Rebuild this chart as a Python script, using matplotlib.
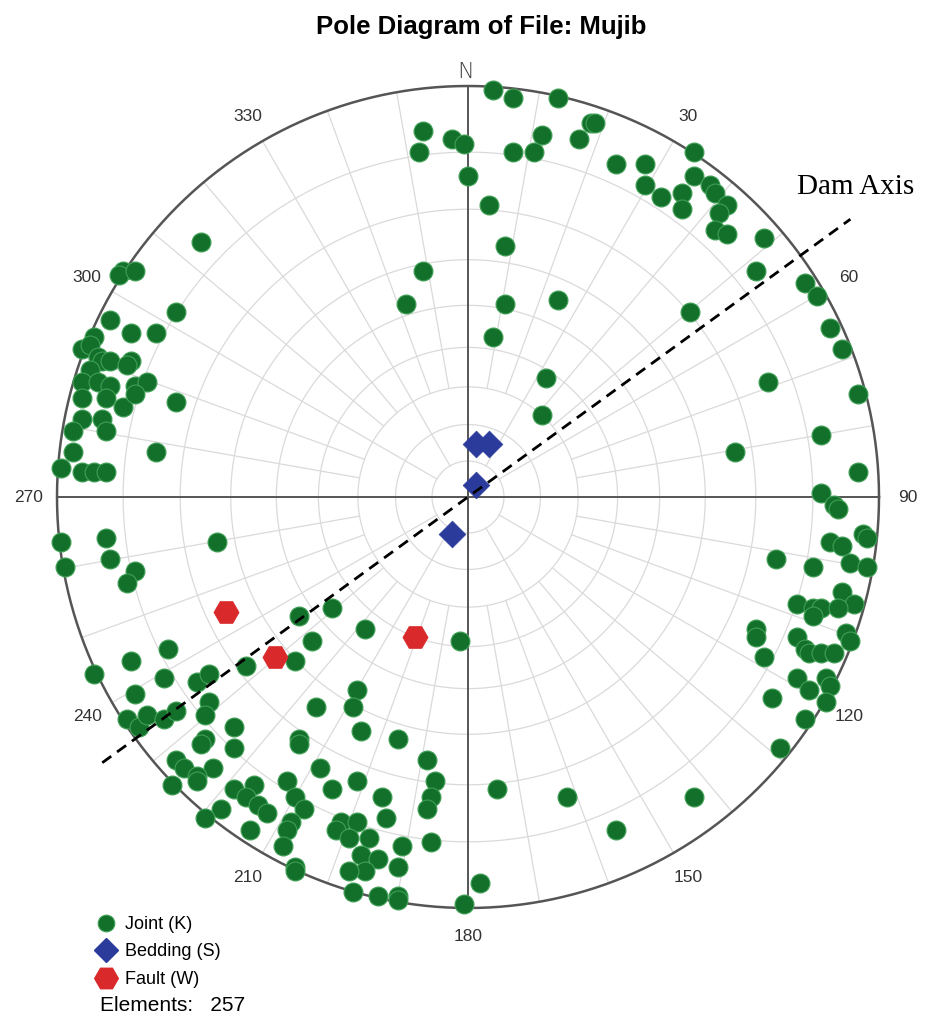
import numpy as np
import matplotlib
matplotlib.use("Agg")
import matplotlib.pyplot as plt
from matplotlib.lines import Line2D

# ---------------- data (net coordinates, primitive circle radius = 1) ----------------
joint_x = [0.06, 0.11, 0.22, -0.11, -0.12, -0.04, -0.01, 0.11, 0.16, 0.18, 0.27, 0.30, 0.31,
           0.00, 0.05, 0.09, 0.36, 0.43, 0.43, 0.47, 0.55, 0.55, 0.59, 0.60, 0.63, 0.61, 0.52,
           0.52, 0.60, 0.63, 0.72, 0.70, 0.82, 0.85, 0.88, 0.91, 0.73, 0.95, 0.19, 0.18, 0.06,
           0.09, 0.22, 0.54, -0.11, -0.15, -0.65, 0.86, 0.65, 0.95,
           0.86, 0.89, 0.90, 0.88, 0.91, 0.96, 0.97, 0.93, 0.97, 0.75, 0.84, 0.91, 0.94, 0.80,
           0.84, 0.86, 0.90, 0.84, 0.70, 0.70, 0.72, 0.80, 0.82, 0.83, 0.86, 0.89, 0.92, 0.93,
           0.80, 0.83, 0.87, 0.88, 0.87, 0.74, 0.82, 0.76,
           -0.84, -0.85, -0.81, -0.71, -0.87, -0.82, -0.76, -0.91, -0.94, -0.92, -0.90, -0.89,
           -0.87, -0.82, -0.83, -0.92, -0.94, -0.90, -0.87, -0.88, -0.94, -0.84, -0.81, -0.78,
           -0.81, -0.71, -0.94, -0.89, -0.88, -0.96, -0.96, -0.76, -0.99, -0.94, -0.91, -0.88,
           -0.99, -0.98, -0.88, -0.87, -0.81, -0.83, -0.61, -0.91, -0.82, -0.74, -0.81, -0.73,
           -0.66, -0.63, -0.54, -0.42, -0.38, -0.41, -0.33, -0.25, -0.02,
           -0.83, -0.80, -0.78, -0.74, -0.71, -0.63, -0.64, -0.64, -0.65, -0.57, -0.57, -0.71,
           -0.69, -0.62, -0.66, -0.66, -0.72, -0.57, -0.52, -0.54, -0.51, -0.49, -0.60, -0.64,
           -0.53, -0.44, -0.42, -0.40, -0.43, -0.44, -0.45, -0.42, -0.42, -0.37, -0.41, -0.41,
           -0.36, -0.33, -0.27, -0.27, -0.28, -0.26, -0.17, -0.21, -0.20, -0.31, -0.32, -0.27,
           -0.29, -0.24, -0.26, -0.22, -0.25, -0.29, -0.28, -0.22, -0.17, -0.17, -0.16, -0.17,
           -0.10, -0.08, -0.09, -0.10, -0.09,
           -0.01, 0.03, 0.07, 0.24, 0.36, 0.55]
joint_y = [0.99, 0.97, 0.97, 0.89, 0.84, 0.87, 0.86, 0.84, 0.84, 0.88, 0.87, 0.91, 0.91,
           0.78, 0.71, 0.61, 0.81, 0.81, 0.76, 0.73, 0.84, 0.78, 0.76, 0.74, 0.71, 0.69, 0.74,
           0.70, 0.65, 0.64, 0.63, 0.55, 0.52, 0.49, 0.41, 0.36, 0.28, 0.25, 0.29, 0.20, 0.39,
           0.47, 0.48, 0.45, 0.55, 0.47, 0.62, 0.15, 0.11, 0.06,
           0.01, -0.02, -0.03, -0.11, -0.12, -0.09, -0.10, -0.16, -0.17, -0.15, -0.17, -0.23,
           -0.26, -0.26, -0.27, -0.27, -0.27, -0.29, -0.32, -0.34, -0.39, -0.34, -0.37, -0.38,
           -0.38, -0.38, -0.33, -0.35, -0.44, -0.47, -0.44, -0.46, -0.50, -0.49, -0.54, -0.61,
           0.55, 0.54, 0.55, 0.45, 0.43, 0.40, 0.40, 0.39, 0.36, 0.37, 0.34, 0.33,
           0.33, 0.33, 0.32, 0.31, 0.28, 0.28, 0.27, 0.24, 0.24, 0.22, 0.27, 0.28,
           0.25, 0.23, 0.19, 0.19, 0.16, 0.16, 0.11, 0.11, 0.07, 0.06, 0.06, 0.06,
           -0.11, -0.17, -0.10, -0.15, -0.18, -0.21, -0.11, -0.43, -0.40, -0.44, -0.48, -0.37,
           -0.45, -0.43, -0.41, -0.40, -0.35, -0.29, -0.27, -0.32, -0.35,
           -0.54, -0.56, -0.53, -0.54, -0.52, -0.50, -0.53, -0.59, -0.60, -0.56, -0.61, -0.64,
           -0.66, -0.66, -0.68, -0.69, -0.70, -0.71, -0.70, -0.73, -0.75, -0.77, -0.76, -0.78,
           -0.81, -0.69, -0.73, -0.76, -0.79, -0.81, -0.85, -0.90, -0.91, -0.51, -0.59, -0.60,
           -0.66, -0.71, -0.69, -0.47, -0.51, -0.57, -0.59, -0.73, -0.78, -0.79, -0.81, -0.79,
           -0.83, -0.83, -0.87, -0.88, -0.91, -0.91, -0.96, -0.97, -0.97, -0.98, -0.85, -0.90,
           -0.64, -0.69, -0.73, -0.76, -0.84,
           -0.99, -0.94, -0.71, -0.73, -0.81, -0.73]

bedding_x = [0.02, 0.05, 0.02, -0.04]
bedding_y = [0.13, 0.13, 0.03, -0.09]

fault_x = [-0.59, -0.47, -0.13]
fault_y = [-0.28, -0.39, -0.34]

dam_axis_trend = 54.0            # degrees clockwise from north
dam_axis_extent = (-1.10, 1.15)  # in primitive radii along the trend

ring_dips = [10, 20, 30, 40, 50, 60, 70, 80]       # equal-angle small circles
azimuth_labels = [30, 60, 90, 120, 150, 180, 210, 240, 270, 300, 330]
legend_labels = ["Joint (K)", "Bedding (S)", "Fault (W)"]
title = "Pole Diagram of File: Mujib"
n_elements = 257

# ---------------- layout ----------------
W, H = 931, 1021
CX, CY, R = 468.0, 497.0, 411.0   # pixel position of the net centre and its radius

fig = plt.figure(figsize=(W / 100, H / 100), dpi=100)
ax = fig.add_axes([0, 0, 1, 1])
ax.set_xlim(-CX / R, (W - CX) / R)
ax.set_ylim(-(H - CY) / R, CY / R)
ax.axis("off")

grid_col = "#dadada"
dark_col = "#555555"

t = np.linspace(0, 2 * np.pi, 721)
for d in ring_dips:
    r = np.tan(np.radians(d) / 2)
    ax.plot(r * np.cos(t), r * np.sin(t), color=grid_col, lw=0.9, zorder=1)

for az in range(10, 360, 10):
    if az % 90 == 0:
        continue
    if az % 30 == 0:
        r0 = np.tan(np.radians(10) / 2)
    else:
        r0 = np.tan(np.radians(30) / 2)
    a = np.radians(az)
    ax.plot([r0 * np.sin(a), np.sin(a)], [r0 * np.cos(a), np.cos(a)],
            color=grid_col, lw=0.9, zorder=1)

ax.plot(np.cos(t), np.sin(t), color=dark_col, lw=1.8, zorder=2)
ax.plot([-1, 1], [0, 0], color=dark_col, lw=1.4, zorder=2)
ax.plot([0, 0], [-1, 1.0], color=dark_col, lw=1.4, zorder=2)

# azimuth labels
for az in azimuth_labels:
    a = np.radians(az)
    ax.text(1.07 * np.sin(a), 1.07 * np.cos(a), str(az), ha="center", va="center",
            fontsize=12.5, color="#333333", family="Liberation Sans")
ax.text(-0.005, 1.035, "N", ha="center", va="center", fontsize=16, color="#444444",
        family="DejaVu Sans", fontweight="light")

# data
joint_c, joint_e = "#13702b", "#3f9f55"
bed_c = "#2b3b9c"
fault_c = "#d9292b"
ax.scatter(joint_x, joint_y, s=185, marker="o", color=joint_c, edgecolors=joint_e,
           linewidths=0.8, zorder=4)
ax.scatter(bedding_x, bedding_y, s=185, marker="D", color=bed_c, edgecolors=bed_c,
           linewidths=0.5, zorder=5)
ax.scatter(fault_x, fault_y, s=330, marker="H", color=fault_c, edgecolors=fault_c,
           linewidths=0.5, zorder=5)

# dam axis
ta = np.radians(dam_axis_trend)
rr = np.array(dam_axis_extent)
ax.plot(rr * np.sin(ta), rr * np.cos(ta), color="black", lw=2.0,
        linestyle=(0, (4, 2.6)), zorder=6)
ax.text(856 / R - CX / R, (CY - 187) / R, "Dam Axis", ha="center", va="center",
        fontsize=21, family="Liberation Serif", color="black")

# title
fig.text(481 / W, 1 - 27 / H, title, ha="center", va="center", fontsize=18.5,
         fontweight="bold", family="Liberation Sans")

# legend
handles = [
    Line2D([], [], marker="o", ls="none", markersize=12, color=joint_c,
           markeredgecolor=joint_e, markeredgewidth=0.8),
    Line2D([], [], marker="D", ls="none", markersize=12, color=bed_c),
    Line2D([], [], marker="H", ls="none", markersize=17, color=fault_c),
]
leg = fig.legend(handles, legend_labels, loc="upper left",
                 bbox_to_anchor=(97 / W, 1 - 916 / H), frameon=False,
                 prop={"family": "Liberation Sans", "size": 13},
                 handlelength=1.0, handletextpad=0.55, labelspacing=0.58,
                 borderpad=0, borderaxespad=0)
fig.text(100 / W, 1 - 1005 / H, f"Elements:   {n_elements}", ha="left", va="center",
         fontsize=15, family="Liberation Sans", color="black")

fig.savefig("out.png", dpi=100)
